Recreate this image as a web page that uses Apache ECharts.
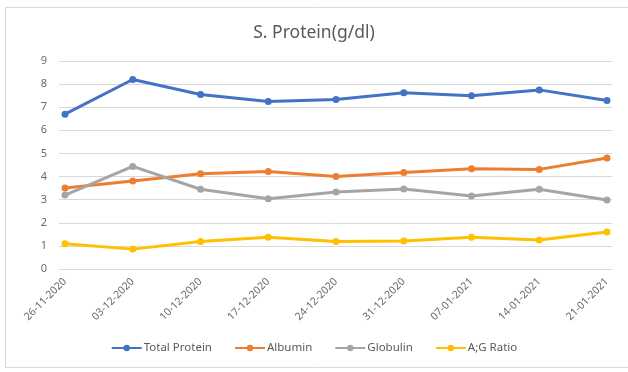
<!DOCTYPE html>
<html><head><meta charset="utf-8">
<script src="https://cdn.jsdelivr.net/npm/echarts@6/dist/echarts.min.js"></script>
<style>html,body{margin:0;padding:0;background:#fff}#c{width:628px;height:372px}</style>
</head><body><div id="c"></div>
<script>
const categories = ['26-11-2020','03-12-2020','10-12-2020','17-12-2020','24-12-2020','31-12-2020','07-01-2021','14-01-2021','21-01-2021'];
const totalProtein = [6.7, 8.2, 7.55, 7.25, 7.33, 7.63, 7.5, 7.75, 7.29];
const albumin = [3.5, 3.81, 4.12, 4.22, 4.0, 4.18, 4.34, 4.31, 4.8];
const globulin = [3.2, 4.44, 3.45, 3.04, 3.33, 3.46, 3.16, 3.45, 2.99];
const agRatio = [1.09, 0.86, 1.19, 1.37, 1.19, 1.21, 1.37, 1.25, 1.6];
const yTicks = [0,1,2,3,4,5,6,7,8,9];
const seriesNames = ['Total Protein','Albumin','Globulin','A;G Ratio'];
const colors = ['#4472C4','#ED7D31','#A5A5A5','#FFC000'];
const font = 'Noto Sans';
const chart = echarts.init(document.getElementById('c'), null, {renderer:'canvas'});
const mk = (name, data, i) => ({
  name, type:'line', data, xAxisIndex:1, yAxisIndex:1,
  symbol:'circle', symbolSize:7, showSymbol:true,
  lineStyle:{width:3, color:colors[i]}, itemStyle:{color:colors[i]},
  emphasis:{disabled:true}, animation:false
});
chart.setOption({
  animation:false,
  textStyle:{fontFamily:font},
  graphic:[{type:'rect', shape:{x:5.5,y:7.5,width:640,height:360}, style:{fill:'none', stroke:'#D9D9D9', lineWidth:1}, silent:true}],
  title:{text:'S. Protein(g/dl)', left:'center', top:19, textStyle:{fontFamily:font, fontSize:17.5, fontWeight:'normal', color:'#595959'}},
  legend:{bottom:13, left:'center', itemWidth:30, itemHeight:8, itemGap:22,
    data:seriesNames.map((n,i)=>({name:n})),
    textStyle:{fontFamily:font, fontSize:11.5, color:'#595959', padding:[0,0,0,-3]}},
  grid:[
    {left:59, right:16, top:61, bottom:103},
    {left:65, right:21, top:61, bottom:103}
  ],
  xAxis:[
    {type:'category', gridIndex:0, data:categories, show:false},
    {type:'category', gridIndex:1, data:categories, boundaryGap:false,
      axisLine:{show:false}, axisTick:{show:false},
      axisLabel:{rotate:45, fontFamily:font, fontSize:10.5, color:'#6a6a6a', margin:11}}
  ],
  yAxis:[
    {type:'value', gridIndex:0, min:0, max:9, interval:1,
      axisLine:{show:false}, axisTick:{show:false},
      axisLabel:{fontFamily:font, fontSize:11, color:'#6a6a6a', margin:12,
        formatter:v=>yTicks.includes(v)?String(v):''},
      splitLine:{lineStyle:{color:'#D9D9D9', width:1}}},
    {type:'value', gridIndex:1, min:0, max:9, interval:1, show:false, splitLine:{show:false}}
  ],
  series:[
    mk(seriesNames[0], totalProtein, 0),
    mk(seriesNames[1], albumin, 1),
    mk(seriesNames[2], globulin, 2),
    mk(seriesNames[3], agRatio, 3)
  ]
});
</script></body></html>
